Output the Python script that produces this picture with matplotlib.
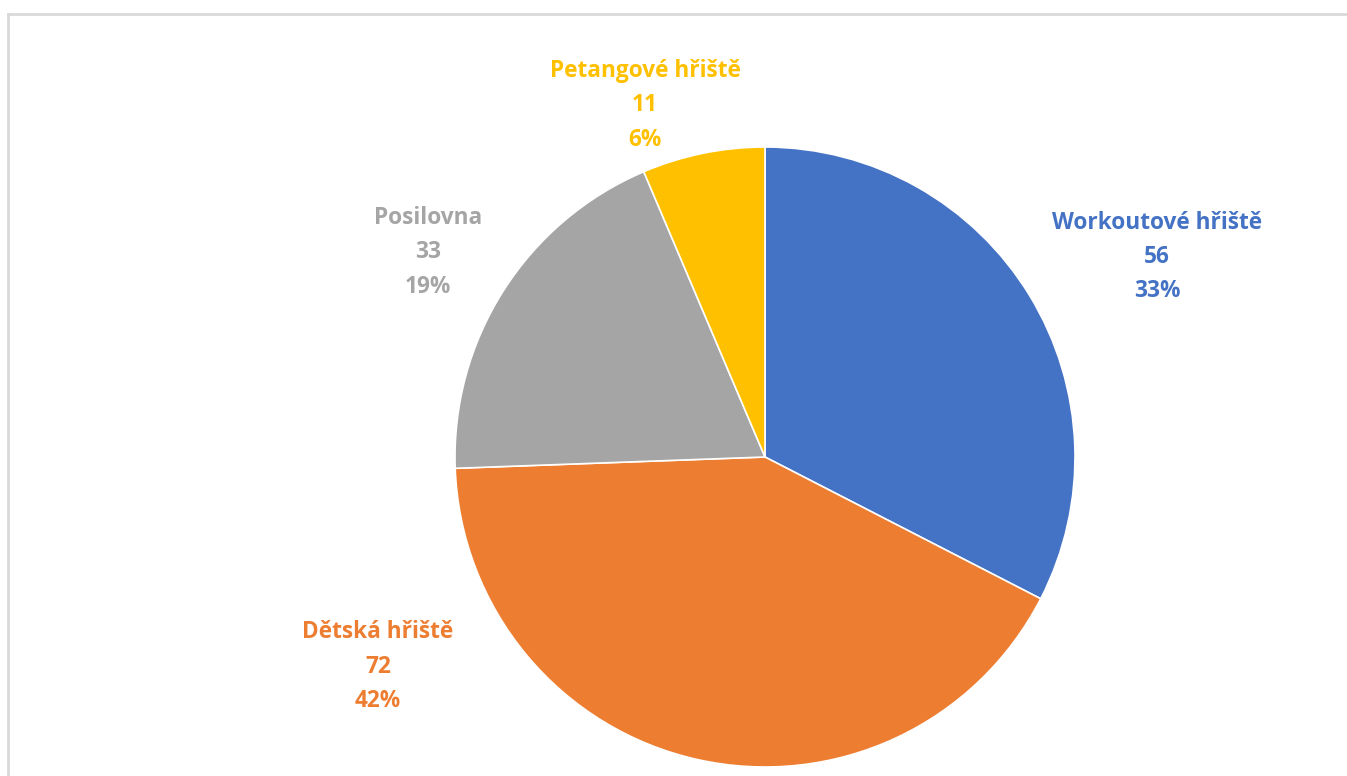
import matplotlib.pyplot as plt
from matplotlib.lines import Line2D

categories = ["Workoutové hřiště", "Dětská hřiště", "Posilovna", "Petangové hřiště"]
counts = [56, 72, 33, 11]
colors = ["#4472C4", "#ED7D31", "#A5A5A5", "#FFC000"]

# where each label block sits (axes data units, pie radius = 1)
label_pos = [(1.265, 0.645), (-1.248, -0.677), (-1.087, 0.661), (-0.387, 1.135)]

W, H = 1347, 776
fig = plt.figure(figsize=(W / 100, H / 100), dpi=100)

# light chart frame
fig.add_artist(Line2D([8 / W, 8 / W], [0, 1 - 14 / H], color="#d9d9d9", lw=2))
fig.add_artist(Line2D([8 / W, 1], [1 - 14 / H, 1 - 14 / H], color="#d9d9d9", lw=2))

cx, cy, r = 765, 457, 310
ax = fig.add_axes([(cx - r) / W, (H - cy - r) / H, 2 * r / W, 2 * r / H])
ax.pie(counts, colors=colors, startangle=90, counterclock=False, radius=1,
       wedgeprops=dict(edgecolor="white", linewidth=1.2))
ax.set_xlim(-1, 1)
ax.set_ylim(-1, 1)
ax.set_aspect("equal")
ax.axis("off")

total = sum(counts)
for name, val, col, (x, y) in zip(categories, counts, colors, label_pos):
    pct = round(val / total * 100)
    ax.text(x, y, f"{name}\n{val}\n{pct}%", ha="center", va="center",
            color=col, fontsize=16.3, fontweight="bold", family="Open Sans",
            linespacing=1.58, clip_on=False)

fig.savefig("out.png", dpi=100)
